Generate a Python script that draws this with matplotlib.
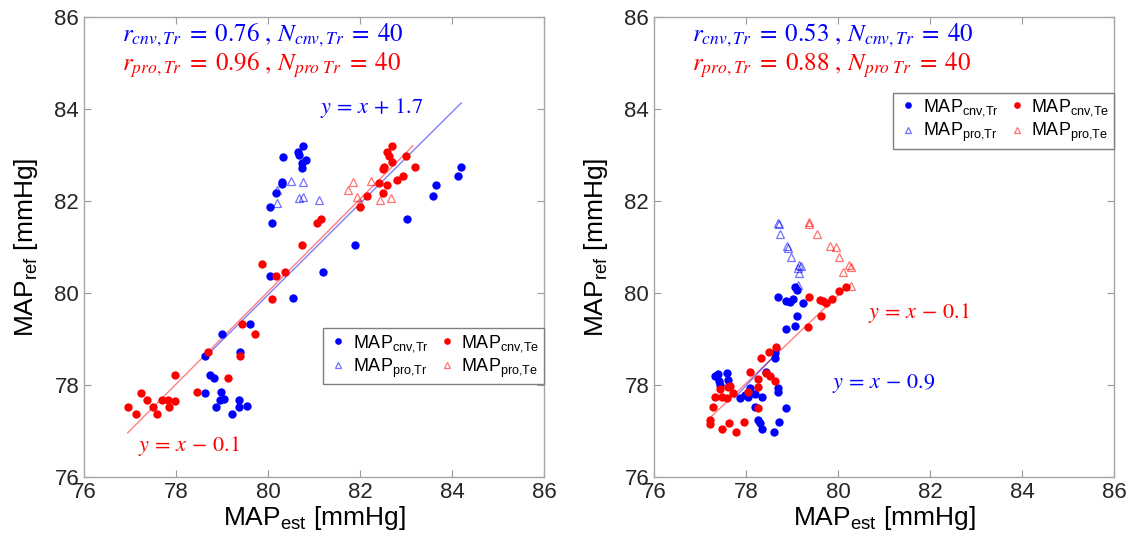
import numpy as np
import matplotlib
matplotlib.use("Agg")
import matplotlib.pyplot as plt

plt.rcParams['font.family'] = ['Liberation Sans', 'DejaVu Sans']
plt.rcParams['mathtext.fontset'] = 'custom'
plt.rcParams['mathtext.rm'] = 'Liberation Sans'
plt.rcParams['mathtext.it'] = 'Liberation Sans:italic'

BLUE = '#0000ff'
RED = '#ff0000'

# ---- left panel: training-set fit
l_cnv_tr_x = [80.33, 80.65, 80.67, 80.76, 80.83, 80.74, 80.74, 80.30, 80.31, 80.17, 80.04, 80.09,
              81.89, 81.20, 80.04, 80.54, 83.02, 83.59, 83.65, 84.13, 84.20, 79.60, 79.01, 79.39,
              78.64, 78.74, 78.83, 78.64, 78.97, 78.96, 79.05, 79.37, 78.88, 79.37, 79.55, 79.21]
l_cnv_tr_y = [82.96, 83.07, 83.00, 83.20, 82.89, 82.83, 82.72, 82.41, 82.38, 82.17, 81.87, 81.52,
              81.04, 80.46, 80.37, 79.89, 81.61, 82.11, 82.35, 82.54, 82.74, 79.32, 79.11, 78.72,
              78.63, 78.22, 78.16, 77.82, 77.85, 77.67, 77.69, 77.67, 77.53, 77.53, 77.54, 77.37]
l_cnv_te_x = [82.69, 82.58, 82.62, 82.69, 82.53, 82.49, 82.99, 83.20, 82.94, 82.80, 82.41, 82.58,
              82.51, 82.16, 82.01, 81.15, 81.07, 80.73, 79.88, 80.17, 80.38, 80.08, 79.44, 79.72,
              78.69, 79.39, 77.97, 79.14, 78.45, 77.24, 77.36, 77.70, 77.83, 77.97, 77.49, 77.85,
              76.95, 77.12, 77.59]
l_cnv_te_y = [83.20, 83.07, 82.98, 82.85, 82.75, 82.70, 82.98, 82.75, 82.54, 82.46, 82.40, 82.35,
              82.18, 82.11, 81.86, 81.61, 81.53, 81.04, 80.63, 80.38, 80.45, 79.88, 79.32, 79.11,
              78.72, 78.63, 78.22, 78.16, 77.85, 77.82, 77.67, 77.67, 77.67, 77.65, 77.53, 77.52,
              77.52, 77.37, 77.37]
l_pro_tr_x = [80.19, 80.49, 80.77, 80.20, 80.68, 80.77, 81.11]
l_pro_tr_y = [82.25, 82.43, 82.41, 81.96, 82.06, 82.09, 82.02]
l_pro_te_x = [81.73, 81.85, 82.23, 81.94, 82.01, 82.43, 82.67]
l_pro_te_y = [82.24, 82.41, 82.43, 82.09, 81.95, 82.02, 82.06]
l_fit_tr_x, l_fit_tr_y = [78.63, 84.20], [78.60, 84.13]
l_fit_te_x, l_fit_te_y = [76.95, 83.15], [76.96, 83.20]

# ---- right panel: test-set fit
r_cnv_tr_x = [79.07, 79.11, 78.70, 78.88, 78.96, 79.03, 79.23, 79.11, 79.06, 78.88,
              78.63, 78.63, 78.43, 77.58, 77.40, 77.33, 77.60, 77.42, 77.44,
              78.69, 78.70, 78.09, 77.98, 77.88, 78.04, 78.20, 78.35, 78.20, 78.88,
              78.26, 78.31, 78.35, 78.71, 78.60]
r_cnv_tr_y = [80.12, 80.07, 79.91, 79.83, 79.81, 79.86, 79.78, 79.50, 79.28, 79.22,
              78.70, 78.58, 78.29, 78.27, 78.24, 78.20, 78.11, 78.09, 78.00,
              77.93, 77.84, 77.93, 77.78, 77.72, 77.75, 77.80, 77.75, 77.52, 77.49,
              77.24, 77.17, 77.04, 77.19, 76.97]
r_cnv_te_x = [79.36, 79.60, 79.67, 79.73, 79.87, 80.03, 80.17, 79.64, 79.34,
              78.65, 78.50, 78.33, 78.43, 78.52, 78.63, 78.09, 78.27, 78.27, 78.04,
              77.66, 77.61, 77.43, 77.71, 77.33, 77.48, 77.58, 77.28,
              78.27, 77.21, 77.21, 77.48, 77.64, 77.79, 77.96]
r_cnv_te_y = [79.91, 79.85, 79.83, 79.78, 79.86, 80.05, 80.12, 79.50, 79.27,
              78.83, 78.71, 78.58, 78.27, 78.20, 78.09, 78.29, 78.12, 77.95, 77.85,
              77.98, 77.95, 77.91, 77.83, 77.75, 77.75, 77.71, 77.52,
              77.49, 77.24, 77.15, 77.04, 77.17, 76.97, 77.19]
r_pro_tr_x = [78.70, 78.72, 78.73, 78.89, 78.91, 78.98, 79.16, 79.20, 79.12, 79.16, 79.12]
r_pro_tr_y = [81.53, 81.49, 81.28, 81.02, 80.98, 80.79, 80.61, 80.59, 80.55, 80.44, 80.17]
r_pro_te_x = [79.36, 79.38, 79.54, 79.82, 79.96, 80.03, 80.23, 80.28, 80.11, 80.28]
r_pro_te_y = [81.55, 81.49, 81.28, 81.02, 81.01, 80.79, 80.61, 80.57, 80.45, 80.16]
r_fit_tr_x, r_fit_tr_y = [77.75, 78.75], [77.72, 78.78]
r_fit_te_x, r_fit_te_y = [77.21, 80.20], [77.28, 80.14]

stats_left = [r'$r_{cnv,Tr}\;=\;0.76\ ,\,N_{cnv,Tr}\;=\;40$',
              r'$r_{pro,Tr}\;=\;0.96\ ,\,N_{pro\ Tr}\;=\;40$']
stats_right = [r'$r_{cnv,Tr}\;=\;0.53\ ,\,N_{cnv,Tr}\;=\;40$',
               r'$r_{pro,Tr}\;=\;0.88\ ,\,N_{pro\ Tr}\;=\;40$']

ticks = [76, 78, 80, 82, 84, 86]


def draw_panel(ax, cnv_tr, cnv_te, pro_tr, pro_te, fit_tr, fit_te):
    ax.plot(*fit_te, color=RED, lw=1.0, alpha=0.5, zorder=2)
    ax.plot(*fit_tr, color=BLUE, lw=1.0, alpha=0.5, zorder=2)
    ax.plot(*cnv_tr, 'o', ms=6, color=BLUE, mec='none', label=r'MAP$_{\mathrm{cnv{,}Tr}}$', zorder=3)
    ax.plot(*cnv_te, 'o', ms=6, color=RED, mec='none', label=r'MAP$_{\mathrm{cnv{,}Te}}$', zorder=3)
    ax.plot(*pro_tr, '^', ms=6, mfc='none', mec=BLUE, mew=0.9, alpha=0.55,
            label=r'MAP$_{\mathrm{pro{,}Tr}}$', zorder=3)
    ax.plot(*pro_te, '^', ms=6, mfc='none', mec=RED, mew=0.9, alpha=0.55,
            label=r'MAP$_{\mathrm{pro{,}Te}}$', zorder=3)
    ax.set_xlim(76, 86)
    ax.set_ylim(76, 86)
    ax.set_xticks(ticks)
    ax.set_yticks(ticks)
    ax.tick_params(direction='in', top=True, right=True, labelsize=16,
                   colors='#262626', color='#999999', length=5, width=0.8)
    for s in ax.spines.values():
        s.set_color('#a6a6a6')
        s.set_linewidth(1.0)
    ax.set_xlabel(r'MAP$_{\mathrm{est}}$ [mmHg]', fontsize=19, labelpad=1)
    ax.set_ylabel(r'MAP$_{\mathrm{ref}}$ [mmHg]', fontsize=19, labelpad=10)


def add_legend(ax, anchor_y, loc):
    h, lab = ax.get_legend_handles_labels()
    order = [0, 2, 1, 3]
    leg = ax.legend([h[i] for i in order], [lab[i] for i in order], ncol=2, loc=loc,
                    bbox_to_anchor=(1.0, anchor_y), borderaxespad=0, fontsize=13,
                    fancybox=False, framealpha=1, edgecolor='#7f7f7f',
                    handletextpad=0.2, columnspacing=0.4, handlelength=1.2,
                    borderpad=0.25, labelspacing=0.15, markerscale=0.8)
    leg.get_frame().set_linewidth(1.0)
    return leg


fig = plt.figure(figsize=(11.36, 5.52), dpi=100)
ax1 = fig.add_axes([84 / 1136, 75 / 552, 460 / 1136, 460 / 552])
ax2 = fig.add_axes([654 / 1136, 75 / 552, 460 / 1136, 460 / 552])

draw_panel(ax1, (l_cnv_tr_x, l_cnv_tr_y), (l_cnv_te_x, l_cnv_te_y), (l_pro_tr_x, l_pro_tr_y),
           (l_pro_te_x, l_pro_te_y), (l_fit_tr_x, l_fit_tr_y), (l_fit_te_x, l_fit_te_y))
draw_panel(ax2, (r_cnv_tr_x, r_cnv_tr_y), (r_cnv_te_x, r_cnv_te_y), (r_pro_tr_x, r_pro_tr_y),
           (r_pro_te_x, r_pro_te_y), (r_fit_tr_x, r_fit_tr_y), (r_fit_te_x, r_fit_te_y))

add_legend(ax1, 0.202, 'lower right')
add_legend(ax2, 0.835, 'upper right')

# correlation summaries and fit equations
kw = dict(math_fontfamily='stix', va='center', ha='left', zorder=5)
for ax, st in ((ax1, stats_left), (ax2, stats_right)):
    ax.text(76.82, 85.61, st[0], color=BLUE, fontsize=18, **kw)
    ax.text(76.82, 84.96, st[1], color=RED, fontsize=18, **kw)

ax1.text(81.13, 84.02, r'$y\,=\,x\,+\,1.7$', color=BLUE, fontsize=16, **kw)
ax1.text(77.17, 76.67, r'$y\,=\,x\,-\,0.1$', color=RED, fontsize=16, **kw)
ax2.text(80.66, 79.57, r'$y\,=\,x\,-\,0.1$', color=RED, fontsize=16, **kw)
ax2.text(79.88, 78.04, r'$y\,=\,x\,-\,0.9$', color=BLUE, fontsize=16, **kw)

fig.savefig('out.png', dpi=100)
